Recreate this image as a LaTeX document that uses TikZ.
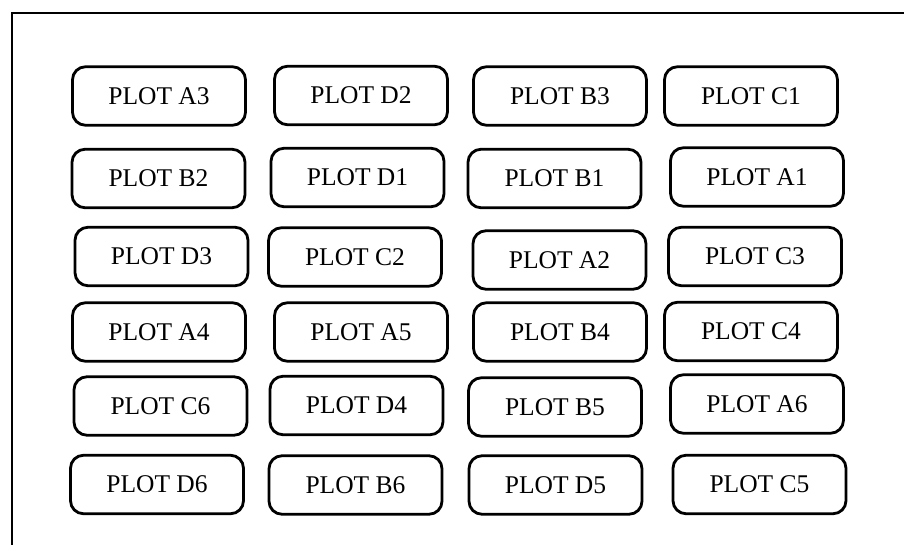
\documentclass[tikz,border=0pt]{standalone}
\usepackage{fontspec}
\setmainfont{Liberation Serif}
\begin{document}
\begin{tikzpicture}[x=1pt,y=-1pt,
  plotbox/.style={draw=black, line width=2.8pt, rounded corners=13pt, minimum width=173pt, minimum height=58.5pt, inner sep=0pt, font=\fontsize{25.5}{30}\selectfont, text=black},
  framebox/.style={draw=black, line width=2.4pt}]
\useasboundingbox (0,0) rectangle (904,545);
\coordinate (fbl) at (12,546);
\coordinate (ftl) at (12,13);
\coordinate (ftr) at (905,13);
\draw[framebox] (fbl) -- (ftl) -- (ftr);
% row 1
\node[plotbox] (A3) at (159,96) {PLOT A3};
\node[plotbox] (D2) at (361,95.5) {PLOT D2};
\node[plotbox] (B3) at (560,96) {PLOT B3};
\node[plotbox] (C1) at (751,96) {PLOT C1};
% row 2
\node[plotbox] (B2) at (158.5,178.5) {PLOT B2};
\node[plotbox] (D1) at (357.5,177.5) {PLOT D1};
\node[plotbox] (B1) at (554.5,178.5) {PLOT B1};
\node[plotbox] (A1) at (757,177) {PLOT A1};
% row 3
\node[plotbox] (D3) at (161.5,256.5) {PLOT D3};
\node[plotbox] (C2) at (355,257) {PLOT C2};
\node[plotbox] (A2) at (559.5,260) {PLOT A2};
\node[plotbox] (C3) at (755,256.5) {PLOT C3};
% row 4
\node[plotbox] (A4) at (159,332) {PLOT A4};
\node[plotbox] (A5) at (361,332) {PLOT A5};
\node[plotbox] (B4) at (560,332) {PLOT B4};
\node[plotbox] (C4) at (751,331.5) {PLOT C4};
% row 5
\node[plotbox] (C6) at (160.5,406) {PLOT C6};
\node[plotbox] (D4) at (356.5,405.5) {PLOT D4};
\node[plotbox] (B5) at (555,407) {PLOT B5};
\node[plotbox] (A6) at (757,404) {PLOT A6};
% row 6
\node[plotbox] (D6) at (157,484.5) {PLOT D6};
\node[plotbox] (B6) at (355.5,485) {PLOT B6};
\node[plotbox] (D5) at (555.5,485) {PLOT D5};
\node[plotbox] (C5) at (759.5,484.5) {PLOT C5};
\end{tikzpicture}
\end{document}
